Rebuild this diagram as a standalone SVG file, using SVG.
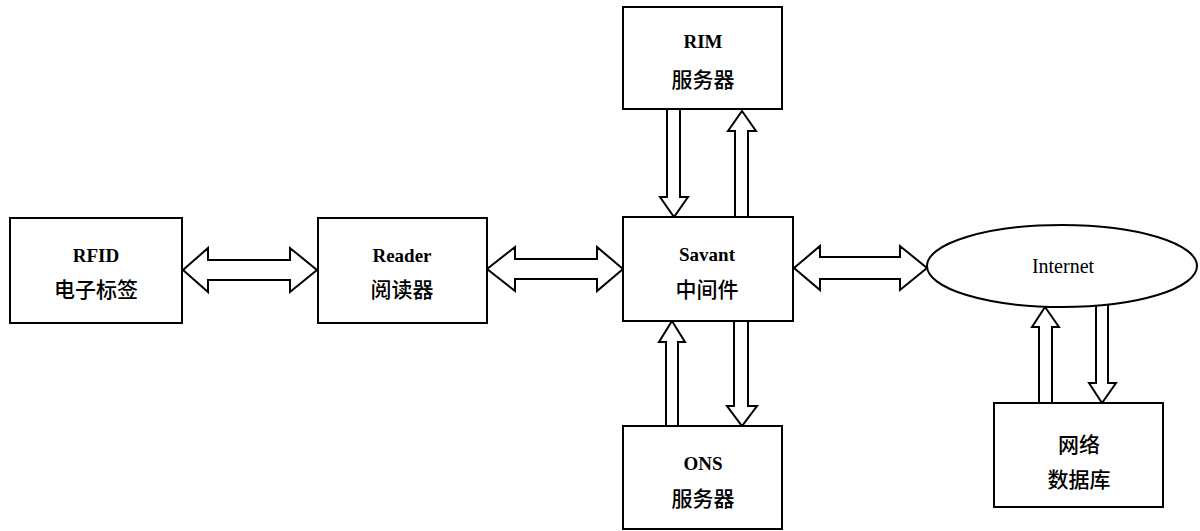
<svg xmlns="http://www.w3.org/2000/svg" width="1200" height="531" viewBox="0 0 1200 531">
<style>
.box{fill:#fff;stroke:#000;stroke-width:2}
.arr{fill:#fff;stroke:#000;stroke-width:2;stroke-linejoin:miter}
.t{font-family:"Liberation Serif","Noto Sans CJK SC",serif;font-size:19px;font-weight:bold;text-anchor:middle;fill:#000}
.c{font-family:"Noto Sans CJK SC","Liberation Serif",sans-serif;font-size:21px;font-weight:500;text-anchor:middle;fill:#000}
.n{font-family:"Liberation Serif",serif;font-size:20px;text-anchor:middle;fill:#000}
</style>
<rect width="1200" height="531" fill="#fff"/>
<g id="connectors">
<polygon class="arr" points="183,270 208,248 208,260 290,260 290,248 317,270 290,292 290,280 208,280 208,292"/>
<polygon class="arr" points="487,269 515,247 515,259 597,259 597,247 623,269 597,291 597,279 515,279 515,291"/>
<polygon class="arr" points="794,268 820,246 820,257 900,257 900,246 927,268 900,290 900,279 820,279 820,290"/>
<polygon class="arr" points="667,109 680,109 680,197 688,197 674,217 660,197 667,197"/>
<polygon class="arr" points="742,111 756,131 748,131 748,217 735,217 735,131 728,131"/>
<polygon class="arr" points="672,321 685,342 678,342 678,426 666,426 666,342 659,342"/>
<polygon class="arr" points="734,321 748,321 748,406 757,406 742,426 727,406 734,406"/>
<polygon class="arr" points="1045,307 1059,327 1052,327 1052,403 1039,403 1039,327 1032,327"/>
<polygon class="arr" points="1096,304 1108,304 1108,383 1116,383 1102,403 1089,383 1096,383"/>
</g>
<g id="rfid">
<rect class="box" x="10" y="218" width="172" height="105"/>
<text class="t" x="96" y="262">RFID</text>
<text class="c" x="96" y="297">电子标签</text>
</g>
<g id="reader">
<rect class="box" x="318" y="218" width="169" height="105"/>
<text class="t" x="402" y="262">Reader</text>
<text class="c" x="402" y="297">阅读器</text>
</g>
<g id="savant">
<rect class="box" x="623" y="217" width="170" height="104"/>
<text class="t" x="707" y="261">Savant</text>
<text class="c" x="707" y="297">中间件</text>
</g>
<g id="rim">
<rect class="box" x="623" y="7" width="159" height="102"/>
<text class="t" x="703" y="48">RIM</text>
<text class="c" x="703" y="87">服务器</text>
</g>
<g id="ons">
<rect class="box" x="623" y="426" width="159" height="103"/>
<text class="t" x="703" y="470">ONS</text>
<text class="c" x="703" y="506">服务器</text>
</g>
<g id="internet">
<ellipse class="box" cx="1062" cy="266" rx="135" ry="41"/>
<text class="n" x="1063" y="273">Internet</text>
</g>
<g id="database">
<rect class="box" x="994" y="403" width="169" height="104"/>
<text class="c" x="1079" y="452">网络</text>
<text class="c" x="1079" y="487">数据库</text>
</g>
</svg>
